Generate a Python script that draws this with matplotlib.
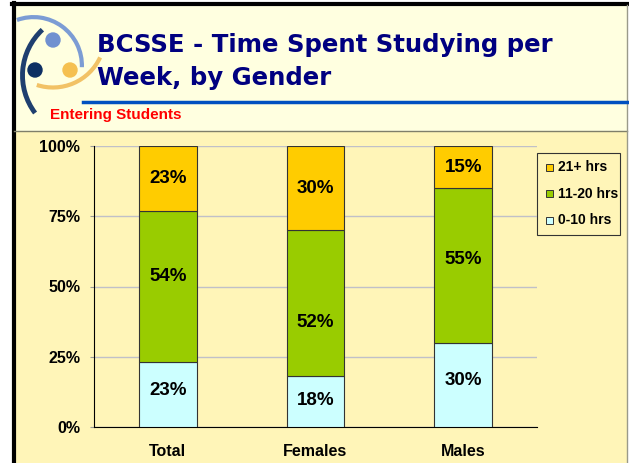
import matplotlib.pyplot as plt
from matplotlib.patches import Rectangle, Arc, Circle
import numpy as np

categories = ["Total", "Females", "Males"]
low = [23, 18, 30]      # 0-10 hrs
mid = [54, 52, 55]      # 11-20 hrs
high = [23, 30, 15]     # 21+ hrs
series_names = ["21+ hrs", "11-20 hrs", "0-10 hrs"]
yticks = [0, 25, 50, 75, 100]

W, H = 629, 463
fig = plt.figure(figsize=(W / 100, H / 100), dpi=100)
fig.patch.set_facecolor("white")

# slide background / decoration, pixel coords (y down)
bg = fig.add_axes([0, 0, 1, 1], zorder=0)
bg.set_xlim(0, W)
bg.set_ylim(H, 0)
bg.axis("off")
bg.add_patch(Rectangle((14, 4), W - 16, 127, facecolor="#FFFFE0", edgecolor="none"))
bg.add_patch(Rectangle((14, 131), W - 16, H - 131, facecolor="#FFF5B8", edgecolor="none"))
bg.plot([12, W], [4, 4], color="black", lw=3)
bg.plot([13.5, 13.5], [3, H], color="black", lw=3)
bg.plot([14, 627], [130.5, 130.5], color="#7F7F6A", lw=1)
bg.plot([627, 627], [5, H], color="#9A9A8A", lw=1)
bg.plot([83, W], [101.5, 101.5], color="#0050C0", lw=2.5)


def arc(cx, cy, r, a1, a2, color, lw):
    # angles as seen on screen (ccw, y up); the axes y is inverted
    bg.add_patch(Arc((cx, cy), 2 * r, 2 * r, theta1=-a2, theta2=-a1, color=color, lw=lw))


arc(33.5, 65.5, 48.4, -2, 110, "#7C9CD4", 3)
arc(85, 75.4, 62.5, 133, 217, "#1F3F6F", 3.5)
arc(52.9, 35.4, 52.1, 252, 335, "#F2C266", 3)
bg.add_patch(Circle((53, 40), 7, color="#7090D0"))
bg.add_patch(Circle((35, 70), 7, color="#0D2F63"))
bg.add_patch(Circle((70, 70), 7, color="#F5C050"))

fig.text(97 / W, 1 - 45 / H, "BCSSE - Time Spent Studying per", color="#000080",
         fontsize=17.6, fontweight="bold", family="DejaVu Sans", va="center", ha="left")
fig.text(97 / W, 1 - 78 / H, "Week, by Gender", color="#000080",
         fontsize=17.6, fontweight="bold", family="DejaVu Sans", va="center", ha="left")
fig.text(50 / W, 1 - 115 / H, "Entering Students", color="#FF0000",
         fontsize=11, fontweight="bold", family="Liberation Sans", va="center", ha="left")

# chart
ax = fig.add_axes([94 / W, 1 - 427 / H, 443 / W, (427 - 146) / H], zorder=1)
ax.patch.set_alpha(0)
x = np.arange(len(categories))
bw = 0.39
colors = {"0-10 hrs": "#CCFFFF", "11-20 hrs": "#99CC00", "21+ hrs": "#FFCC00"}
top_base = np.array(low) + np.array(mid)
ax.bar(x, low, bw, color=colors["0-10 hrs"], edgecolor="#333333", lw=0.8, zorder=3)
ax.bar(x, mid, bw, bottom=low, color=colors["11-20 hrs"], edgecolor="#333333", lw=0.8, zorder=3)
ax.bar(x, high, bw, bottom=top_base, color=colors["21+ hrs"], edgecolor="#333333", lw=0.8, zorder=3)

# label nudges (points) as the labels sit in the original slide
nudge = {"low": [3, 1, 3], "mid": [7, -14, 4], "high": [0, 0, 0]}
for key, vals, bottoms in [("low", low, [0] * 3), ("mid", mid, low), ("high", high, top_base)]:
    for i, v in enumerate(vals):
        ax.annotate(f"{v}%", (x[i], bottoms[i] + v / 2), xytext=(0, nudge[key][i]),
                    textcoords="offset points", ha="center", va="center",
                    fontsize=13.5, fontweight="bold", family="Liberation Sans", zorder=4)

ax.set_xlim(-0.5, 2.5)
ax.set_ylim(0, 100)
ax.set_yticks(yticks)
ax.set_yticklabels([f"{t}%" for t in yticks])
ax.set_xticks(x)
ax.set_xticklabels(categories)
for lab in ax.get_yticklabels() + ax.get_xticklabels():
    lab.set_fontweight("bold")
    lab.set_family("Liberation Sans")
    lab.set_fontsize(11.5)
ax.tick_params(axis="y", length=3, pad=7, color="#999999")
ax.tick_params(axis="x", length=0, pad=12)
ax.grid(axis="y", color="#C0C0C8", lw=1, zorder=0)
ax.spines["top"].set_visible(False)
ax.spines["right"].set_visible(False)
ax.spines["left"].set_color("black")
ax.spines["bottom"].set_color("black")

# legend box drawn in slide pixel coords
bg.add_patch(Rectangle((537, 152.5), 83, 82.5, facecolor="#FFF5B8", edgecolor="#333333",
                       lw=0.8, zorder=5))
for j, name in enumerate(series_names):
    yc = 167 + j * 26.5
    bg.add_patch(Rectangle((546, yc - 3.5), 7, 7, facecolor=colors[name],
                           edgecolor="#333333", lw=0.7, zorder=6))
    bg.text(558, yc, name, ha="left", va="center", fontsize=10, fontweight="bold",
            family="Liberation Sans", zorder=6)

fig.savefig("out.png", dpi=100)
